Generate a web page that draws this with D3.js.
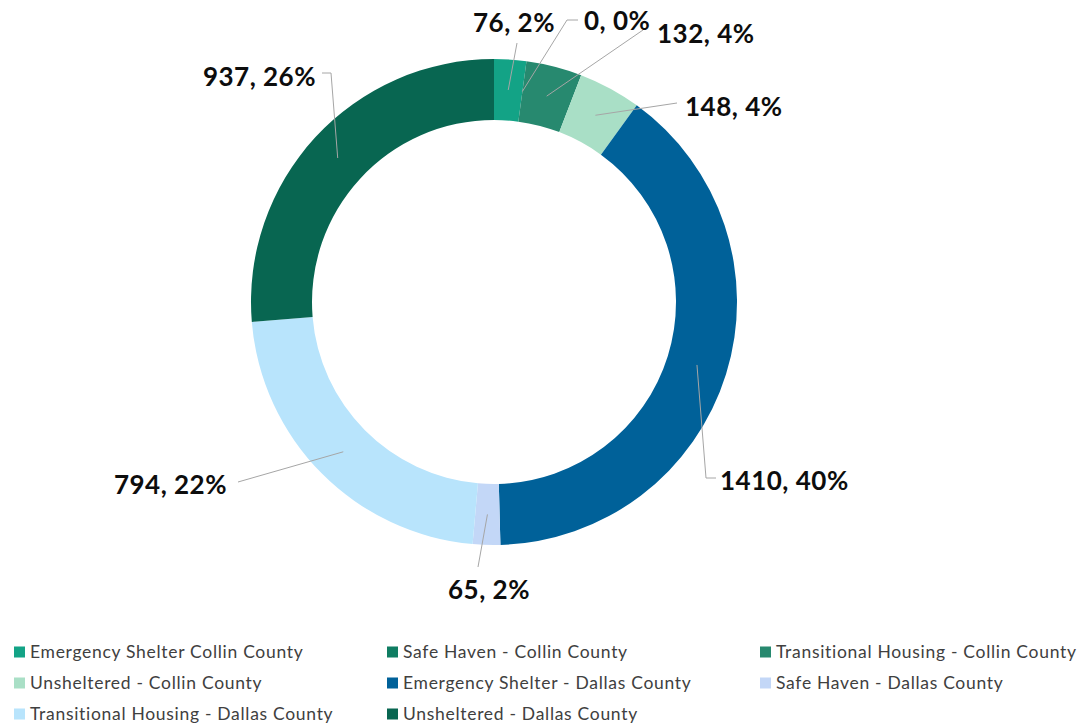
<!DOCTYPE html>
<html>
<head>
<meta charset="utf-8">
<script src="https://cdn.jsdelivr.net/npm/d3@7"></script>
<style>
  body { margin: 0; background: white; }
  text { font-family: Lato, "Open Sans", sans-serif; }
</style>
</head>
<body>
<div id="chart"></div>
<script>
// data
const categories = [
  'Emergency Shelter Collin County',
  'Safe Haven - Collin County',
  'Transitional Housing - Collin County',
  'Unsheltered - Collin County',
  'Emergency Shelter - Dallas County',
  'Safe Haven - Dallas County',
  'Transitional Housing - Dallas County',
  'Unsheltered - Dallas County'
];
const values = [76, 0, 132, 148, 1410, 65, 794, 937];
const colors = ['#13a386', '#0f7d62', '#27896f', '#a9dfc6', '#006199', '#c3d7f7', '#b8e4fc', '#086651'];

// dimensions
let width = 1082,
  height = 725,
  cx = 494,
  cy = 302,
  outerR = 243,
  innerR = 182;

// label placement (Excel dragged labels) : text pos, optional elbow, line end
const labelLayout = [
  { x: 514, y: 22, anchor: 'middle', end: [517, 43] },
  { x: 584, y: 20, anchor: 'start', elbow: [567, 20], end: [578, 20] },
  { x: 657, y: 33, anchor: 'start', end: [643, 30] },
  { x: 685, y: 106, anchor: 'start', end: [677, 103] },
  { x: 720, y: 480, anchor: 'start', elbow: [706, 478], end: [716, 478] },
  { x: 489, y: 589, anchor: 'middle', end: [478, 567] },
  { x: 227, y: 484, anchor: 'end', end: [238, 482] },
  { x: 316, y: 76, anchor: 'end', elbow: [331, 73], end: [322, 73] }
];

let svg = d3.select('#chart')
  .append('svg')
    .attr('width', width)
    .attr('height', height)
    .style('background', 'white');

let total = d3.sum(values);

let pie = d3.pie()
  .sort(null)
  .value(d => d);

let arcs = pie(values);

let arc = d3.arc()
  .innerRadius(innerR)
  .outerRadius(outerR);

let midArc = d3.arc()
  .innerRadius((innerR + outerR) / 2)
  .outerRadius((innerR + outerR) / 2);

let donut = svg.append('g')
  .attr('transform', 'translate(' + cx + ',' + cy + ')');

donut.selectAll('path')
  .data(arcs)
  .enter()
  .append('path')
    .attr('d', arc)
    .attr('fill', (d, i) => colors[i]);

// leader lines
let line = d3.line();
svg.append('g')
  .selectAll('path')
  .data(arcs)
  .enter()
  .append('path')
    .attr('d', (d, i) => {
      let c = midArc.centroid(d);
      let lay = labelLayout[i];
      let pts = [[cx + c[0], cy + c[1]]];
      if (lay.elbow) pts.push(lay.elbow);
      pts.push(lay.end);
      return line(pts);
    })
    .attr('fill', 'none')
    .attr('stroke', '#a6a6a6')
    .attr('stroke-width', 1);

// data labels
svg.append('g')
  .selectAll('text')
  .data(arcs)
  .enter()
  .append('text')
    .attr('x', (d, i) => labelLayout[i].x)
    .attr('y', (d, i) => labelLayout[i].y + 3)
    .attr('text-anchor', (d, i) => labelLayout[i].anchor)
    .attr('dominant-baseline', 'middle')
    .style('font-size', '26px')
    .style('font-weight', 'bold')
    .style('letter-spacing', '0.5px')
    .style('fill', '#0d0d0d')
    .text(d => d.data + ', ' + Math.round(d.data / total * 100) + '%');

// legend, 3 columns
let colX = [14, 387, 760],
  rowY = [652, 683, 714];

let legend = svg.append('g')
  .selectAll('g')
  .data(categories)
  .enter()
  .append('g')
    .attr('transform', (d, i) => 'translate(' + colX[i % 3] + ',' + rowY[Math.floor(i / 3)] + ')');

legend.append('rect')
  .attr('x', 0)
  .attr('y', -5.5)
  .attr('width', 11)
  .attr('height', 11)
  .attr('fill', (d, i) => colors[i]);

legend.append('text')
  .attr('x', 16)
  .attr('y', 2)
  .attr('dominant-baseline', 'middle')
  .style('font-size', '17.5px')
  .style('letter-spacing', '0.7px')
  .style('fill', '#404040')
  .text(d => d);
</script>
</body>
</html>
